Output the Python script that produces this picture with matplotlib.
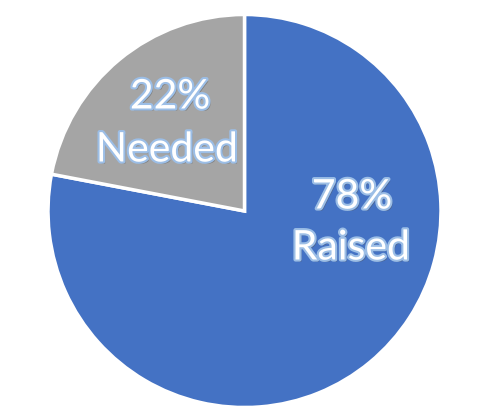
import matplotlib
matplotlib.use("Agg")
import matplotlib.pyplot as plt
import matplotlib.patheffects as pe

categories = ["Raised", "Needed"]
values = [78, 22]
colors = ["#4472C4", "#A5A5A5"]

W, H = 491, 411
cx, cy, r = 244.5, 211.0, 196.5

fig = plt.figure(figsize=(W / 100, H / 100), dpi=100)
fig.patch.set_facecolor("white")
ax = fig.add_axes([0, 0, 1, 1])

wedges, _ = ax.pie(values, colors=colors, startangle=90, counterclock=False,
                   radius=1.0, center=(0, 0),
                   wedgeprops=dict(edgecolor="white", linewidth=2.5))

ax.set_xlim(-cx / r, (W - cx) / r)
ax.set_ylim(-(H - cy) / r, cy / r)
ax.set_aspect("auto")
ax.axis("off")

def px(x, y):
    return ((x - cx) / r, (cy - y) / r)

label_pos = {"Needed": [(170, 97), (167, 150)], "Raised": [(352, 197), (351, 248)]}
effects = [pe.withSimplePatchShadow(offset=(1.5, -1.5), shadow_rgbFace="#555555", alpha=0.45),
           pe.withStroke(linewidth=3.0, foreground="#9CBEE6")]
for cat, val in zip(categories, values):
    (x1, y1), (x2, y2) = label_pos[cat]
    for (x, y), s in [((x1, y1), f"{val}%"), ((x2, y2), cat)]:
        t = ax.text(*px(x, y), s, ha="center", va="center", color="white",
                    fontsize=29.5, family="Lato")
        t.set_path_effects(effects)

fig.savefig("out.png", dpi=100, facecolor="white")
